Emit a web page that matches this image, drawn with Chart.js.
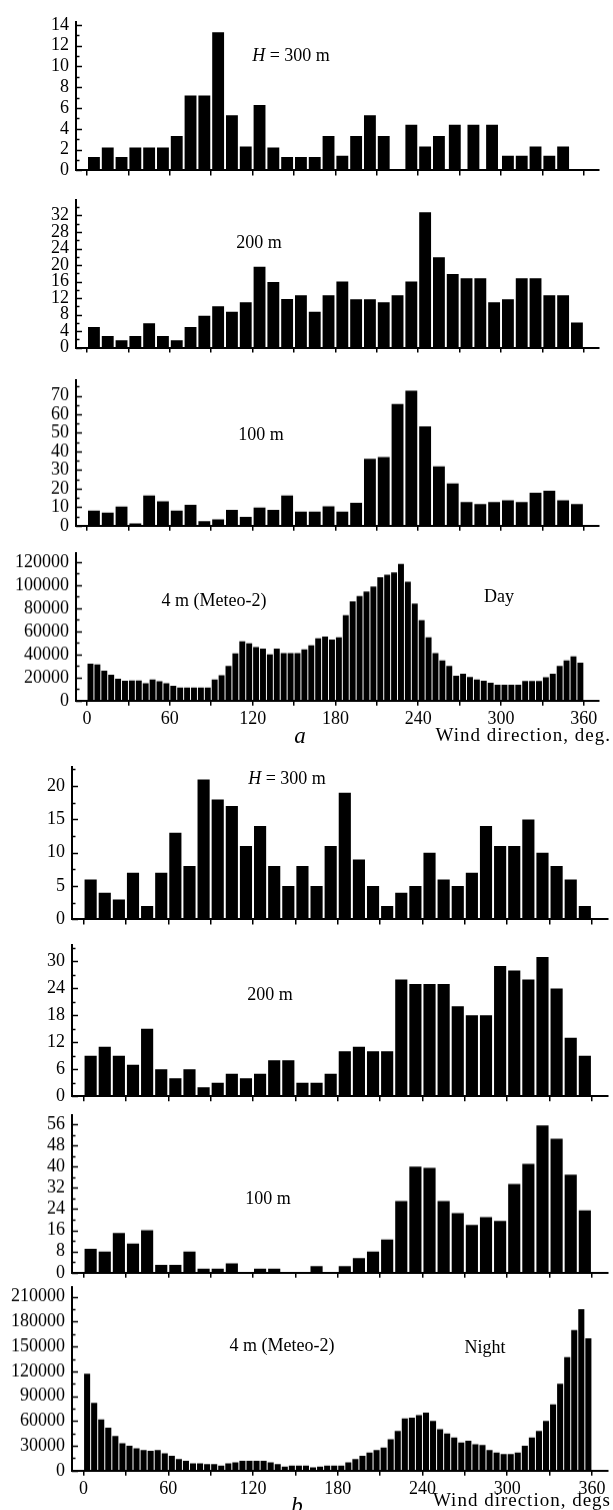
<!DOCTYPE html>
<html>
<head>
<meta charset="utf-8">
<script src="https://cdn.jsdelivr.net/npm/chart.js@4.4.0/dist/chart.umd.min.js"></script>
<style>
  body { margin: 0; background: #fff; width: 613px; height: 1510px; position: relative; overflow: hidden; font-family: 'Liberation Serif', serif; color: #000; }
  .panel { position: absolute; left: 0; width: 613px; }
  .txt { position: absolute; transform: translate(-50%, -50%); font-size: 18px; white-space: nowrap; }
  .axt { position: absolute; transform: translate(-100%, -50%); font-size: 19px; letter-spacing: 1px; white-space: nowrap; }
  .big { font-size: 23px; font-style: italic; }
</style>
</head>
<body>
<div class="panel"><canvas id="d300"></canvas></div>
<div class="panel"><canvas id="d200"></canvas></div>
<div class="panel"><canvas id="d100"></canvas></div>
<div class="panel"><canvas id="d4"></canvas></div>
<div class="panel"><canvas id="n300"></canvas></div>
<div class="panel"><canvas id="n200"></canvas></div>
<div class="panel"><canvas id="n100"></canvas></div>
<div class="panel"><canvas id="n4"></canvas></div>

<div class="txt" style="left:291px; top:55px;"><i>H</i> = 300 m</div>
<div class="txt" style="left:259px; top:242px;">200 m</div>
<div class="txt" style="left:261px; top:434px;">100 m</div>
<div class="txt" style="left:214px; top:600px;">4 m (Meteo-2)</div>
<div class="txt" style="left:499px; top:596px;">Day</div>
<div class="txt big" style="left:300px; top:736px;">a</div>
<div class="axt" style="left:611px; top:735px;">Wind direction, deg.</div>

<div class="txt" style="left:287px; top:778px;"><i>H</i> = 300 m</div>
<div class="txt" style="left:270px; top:994px;">200 m</div>
<div class="txt" style="left:268px; top:1198px;">100 m</div>
<div class="txt" style="left:282px; top:1345px;">4 m (Meteo-2)</div>
<div class="txt" style="left:485px; top:1347px;">Night</div>
<div class="txt big" style="left:297px; top:1506px;">b</div>
<div class="axt" style="left:611px; top:1500px;">Wind direction, degs</div>

<script>
// wind direction bins (bin centres, degrees)
const DIR10 = [5, 15, 25, 35, 45, 55, 65, 75, 85, 95, 105, 115, 125, 135, 145, 155, 165, 175,
  185, 195, 205, 215, 225, 235, 245, 255, 265, 275, 285, 295, 305, 315, 325, 335, 345, 355];
const DIR5 = [2.5, 7.5, 12.5, 17.5, 22.5, 27.5, 32.5, 37.5, 42.5, 47.5, 52.5, 57.5,
  62.5, 67.5, 72.5, 77.5, 82.5, 87.5, 92.5, 97.5, 102.5, 107.5, 112.5, 117.5,
  122.5, 127.5, 132.5, 137.5, 142.5, 147.5, 152.5, 157.5, 162.5, 167.5, 172.5, 177.5,
  182.5, 187.5, 192.5, 197.5, 202.5, 207.5, 212.5, 217.5, 222.5, 227.5, 232.5, 237.5,
  242.5, 247.5, 252.5, 257.5, 262.5, 267.5, 272.5, 277.5, 282.5, 287.5, 292.5, 297.5,
  302.5, 307.5, 312.5, 317.5, 322.5, 327.5, 332.5, 337.5, 342.5, 347.5, 352.5, 357.5];
// the day 300 m panel has three wider bins between 260 and 300
const DIR_DAY300 = [5, 15, 25, 35, 45, 55, 65, 75, 85, 95, 105, 115, 125, 135, 145, 155, 165, 175,
  185, 195, 205, 215, 225, 235, 245, 255, 266.5, 280, 293.5, 305, 315, 325, 335, 345, 355];

const X_TICKS = [0, 30, 60, 90, 120, 150, 180, 210, 240, 270, 300, 330, 360];
const X_LABELS = [0, 60, 120, 180, 240, 300, 360];

// day
const DAY_300 = [1.3, 2.2, 1.3, 2.2, 2.2, 2.2, 3.3, 7.2, 7.2, 13.3, 5.3, 2.3, 6.3, 2.2, 1.3, 1.3, 1.3, 3.3,
  1.4, 3.3, 5.3, 3.3, 0, 4.4, 2.3, 3.3, 4.4, 4.4, 4.4, 1.4, 1.4, 2.3, 1.4, 2.3, 0];
const DAY_200 = [5, 2.8, 1.8, 2.8, 5.9, 2.8, 1.8, 5, 7.7, 10, 8.7, 11, 19.6, 15.9, 11.8, 12.7, 8.7, 12.7,
  16, 11.7, 11.7, 11, 12.7, 16, 32.8, 21.9, 17.8, 16.8, 16.8, 11, 11.7, 16.8, 16.8, 12.7, 12.7, 6.1];
const DAY_100 = [8.1, 7, 10.3, 1.3, 16.3, 13.2, 8.1, 11.2, 2.4, 3.4, 8.5, 4.7, 9.8, 8.5, 16.3, 7.6, 7.6, 10.5,
  7.6, 12.3, 36, 37, 65.6, 72.7, 53.5, 32, 22.8, 12.7, 11.6, 12.7, 13.7, 12.7, 17.7, 18.8, 13.7, 11.6];
const DAY_4 = [32000, 31300, 26000, 22500, 19000, 17300, 17500, 17500, 15000, 18400, 16700, 15000,
  12900, 11400, 11400, 11400, 11400, 11400, 18400, 22000, 30000, 41000, 51500, 49700,
  46500, 45000, 40000, 45000, 41200, 41200, 41200, 44500, 48000, 54000, 55500, 53000,
  55000, 74000, 86000, 90700, 94500, 98800, 107000, 109000, 111000, 118500, 103000, 84000,
  69600, 55000, 41200, 34800, 30100, 21600, 23400, 20500, 18400, 17300, 15500, 13700,
  13700, 13700, 13700, 17000, 17000, 17000, 20200, 23400, 30100, 34800, 38300, 33000];

// night
const NIGHT_300 = [6, 4, 3, 7, 2, 7, 13, 8, 21, 18, 17, 11, 14, 8, 5, 8, 5, 11,
  19, 9, 5, 2, 4, 5, 10, 6, 5, 7, 14, 11, 11, 15, 10, 8, 6, 2];
const NIGHT_200 = [9, 11, 9, 7, 15, 6, 4, 6, 2, 3, 5, 4, 5, 8, 8, 3, 3, 5,
  10, 11, 10, 10, 26, 25, 25, 25, 20, 18, 18, 29, 28, 26, 31, 24, 13, 9];
const NIGHT_100 = [9, 8, 15, 11, 16, 3, 3, 8, 1.5, 1.5, 3.5, 0, 1.5, 1.5, 0, 0, 2.5, 0,
  2.5, 5.5, 8, 12.5, 27, 40, 39.5, 27, 22.5, 18, 21, 19.5, 33.5, 41, 55.5, 50.5, 37, 23.5];
const NIGHT_4 = [117000, 82000, 62000, 52000, 42000, 33000, 30000, 27000, 25000, 24000, 25000, 21000,
  18000, 14000, 12000, 9000, 9000, 8000, 8000, 6000, 9000, 10000, 12000, 12000,
  12000, 12000, 10000, 8000, 5000, 6000, 6000, 6000, 4000, 5000, 6000, 6000,
  6000, 10000, 14000, 18000, 22000, 25000, 28000, 38000, 48000, 63000, 64000, 67000,
  70000, 60000, 50000, 45000, 40000, 34000, 36000, 32000, 31000, 25000, 22000, 20000,
  20000, 22000, 30000, 40000, 48000, 60000, 80000, 105000, 137000, 170000, 195000, 160000];

Chart.defaults.font.family = "'Liberation Serif', serif";
Chart.defaults.font.size = 18;
Chart.defaults.color = '#000';

// y ticks in the figure point into the plot, so draw them by hand
const inwardTicks = {
  id: 'inwardTicks',
  afterDraw(chart) {
    const y = chart.scales.y, c = chart.ctx, x0 = chart.chartArea.left;
    c.save();
    c.strokeStyle = '#000';
    c.lineWidth = 1.5;
    y.ticks.forEach(t => {
      const py = Math.round(y.getPixelForValue(t.value)) + 0.5;
      const len = t.label !== '' ? 6 : 3.5;
      c.beginPath();
      c.moveTo(x0, py);
      c.lineTo(x0 + len, py);
      c.stroke();
    });
    c.restore();
  }
};

const isMultiple = (v, s) => Math.abs(v / s - Math.round(v / s)) < 1e-6;

function yTicks(p) {
  const t = [];
  for (let i = 0; i * p.yStep <= p.yMax + 1e-9; i++) {
    t.push({ value: Math.round(i * p.yStep * 1000) / 1000 });
  }
  return t;
}

function makeChart(p) {
  const canvas = document.getElementById(p.id);
  const wrap = canvas.parentNode;
  const h0 = p.base - p.top + 60;
  canvas.width = 613;
  canvas.height = h0;
  const chart = new Chart(canvas, {
    type: 'bar',
    data: {
      datasets: [{
        data: p.dirs.map((d, i) => ({ x: d, y: p.vals[i] })),
        backgroundColor: '#000',
        borderWidth: 0,
        barPercentage: 0.86,
        categoryPercentage: 1
      }]
    },
    options: {
      responsive: false,
      maintainAspectRatio: false,
      animation: false,
      layout: { padding: { top: 14, right: p.night ? 5 : 14, bottom: 2, left: 0 } },
      plugins: { legend: { display: false }, tooltip: { enabled: false } },
      scales: {
        x: {
          type: 'linear',
          min: p.night ? -8.2 : -8,
          max: p.night ? 371.4 : 371,
          offset: false,
          afterBuildTicks: s => { s.ticks = X_TICKS.map(v => ({ value: v })); },
          grid: { display: true, offset: false, drawOnChartArea: false, drawTicks: true, tickLength: 5, color: '#000', lineWidth: 1.5 },
          border: { display: true, color: '#000', width: 2 },
          ticks: {
            display: p.xLabels, autoSkip: false, maxRotation: 0, padding: 3,
            callback: v => (X_LABELS.includes(v) ? String(v) : '')
          }
        },
        y: {
          min: 0,
          max: p.yMax,
          afterFit: s => { s.width = p.night ? 72 : 76; },
          afterBuildTicks: s => { s.ticks = yTicks(p); },
          grid: { display: false, drawTicks: false },
          border: { display: true, color: '#000', width: 2 },
          ticks: {
            autoSkip: false, padding: 7,
            callback: v => (isMultiple(v, p.yMajor) ? String(v) : '')
          }
        }
      }
    },
    plugins: [inwardTicks]
  });
  // line the plot area up with the figure
  const a = chart.chartArea.top;
  const b = h0 - chart.chartArea.bottom;
  wrap.style.top = (p.top - a) + 'px';
  chart.resize(613, p.base - p.top + a + b);
}

const panels = [
  { id: 'd300', dirs: DIR_DAY300, vals: DAY_300, yMax: 14.3, yStep: 1, yMajor: 2, top: 21.7, base: 170, night: false, xLabels: false },
  { id: 'd200', dirs: DIR10, vals: DAY_200, yMax: 35.8, yStep: 2, yMajor: 4, top: 199.3, base: 346.7, night: false, xLabels: false },
  { id: 'd100', dirs: DIR10, vals: DAY_100, yMax: 78.5, yStep: 5, yMajor: 10, top: 380, base: 525, night: false, xLabels: false },
  { id: 'd4', dirs: DIR5, vals: DAY_4, yMax: 128000, yStep: 10000, yMajor: 20000, top: 553, base: 700, night: false, xLabels: true },
  { id: 'n300', dirs: DIR10, vals: NIGHT_300, yMax: 22.9, yStep: 2.5, yMajor: 5, top: 766.7, base: 918.5, night: true, xLabels: false },
  { id: 'n200', dirs: DIR10, vals: NIGHT_200, yMax: 33.7, yStep: 3, yMajor: 6, top: 945, base: 1095.7, night: true, xLabels: false },
  { id: 'n100', dirs: DIR10, vals: NIGHT_100, yMax: 59.5, yStep: 4, yMajor: 8, top: 1115, base: 1272, night: true, xLabels: false },
  { id: 'n4', dirs: DIR5, vals: NIGHT_4, yMax: 222000, yStep: 15000, yMajor: 30000, top: 1287, base: 1470, night: true, xLabels: true }
];

panels.forEach(makeChart);
</script>
</body>
</html>
